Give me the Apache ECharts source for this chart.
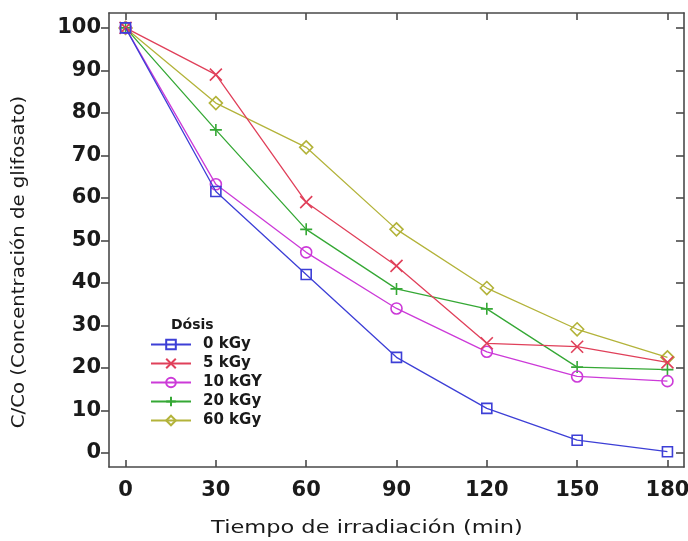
<!DOCTYPE html>
<html>
<head>
<meta charset="utf-8">
<script src="https://cdn.jsdelivr.net/npm/echarts@6/dist/echarts.min.js"></script>
<style>
html,body{margin:0;padding:0;background:#fff;}
#chart{width:688px;height:541px;}
</style>
</head>
<body>
<div id="chart"></div>
<script>
// Irradiation time (min) and relative glyphosate concentration per dose
const times = [0, 30, 60, 90, 120, 150, 180];
const xTicks = [0, 30, 60, 90, 120, 150, 180];
const yTicks = [0, 10, 20, 30, 40, 50, 60, 70, 80, 90, 100];
const seriesNames = ['0 kGy', '5 kGy', '10 kGY', '20 kGy', '60 kGy'];
const dose0 = [100, 61.5, 42, 22.5, 10.5, 3, 0.3];
const dose5 = [100, 89, 59, 44, 25.8, 25, 21.3];
const dose10 = [100, 63.2, 47.2, 34, 23.8, 18, 16.9];
const dose20 = [100, 76, 52.6, 38.6, 33.9, 20.2, 19.6];
const dose60 = [100, 82.3, 71.9, 52.6, 38.8, 29.1, 22.5];
const xTitle = 'Tiempo de irradiación (min)';
const yTitle = 'C/Co (Concentración de glifosato)';
const legendTitle = 'Dósis';

const colors = ['#3d3fd6', '#e0405a', '#cc3ad8', '#35a835', '#b3b33a'];
const crossPath = 'path://M0,0L10,10M10,0L0,10';
const plusPath = 'path://M5,0L5,10M0,5L10,5';
const symbols = ['rect', crossPath, 'circle', plusPath, 'diamond'];
const symbolSizes = [10, 12, 11, 12, 13];
const allData = [dose0, dose5, dose10, dose20, dose60];

const series = allData.map((vals, i) => {
  const isLineSym = i === 1 || i === 3;
  return {
    name: seriesNames[i],
    type: 'line',
    data: vals.map((v, k) => [times[k], v]),
    symbol: symbols[i],
    symbolSize: symbolSizes[i],
    showAllSymbol: true,
    lineStyle: { color: colors[i], width: 1.3 },
    itemStyle: isLineSym
      ? { color: 'none', borderColor: colors[i], borderWidth: 1.6 }
      : { color: 'rgba(255,255,255,0)', borderColor: colors[i], borderWidth: 1.6 },
    color: colors[i],
    emphasis: { disabled: true },
    z: 5 - i
  };
});

const axisLineStyle = { color: '#4a4a4a', width: 1.6 };
const tickFont = { fontFamily: 'DejaVu Sans, sans-serif', fontWeight: 'bold', fontSize: 21, color: '#1a1a1a' };

const chart = echarts.init(document.getElementById('chart'), null, { renderer: 'canvas' });
chart.setOption({
  animation: false,
  backgroundColor: '#fff',
  grid: { left: 109, right: 4, top: 13, bottom: 74, outerBoundsMode: 'none', containLabel: false },
  xAxis: [{
    type: 'value', min: -5.5, max: 185.5,
    axisLine: { show: true, onZero: false, lineStyle: axisLineStyle },
    axisTick: { show: true, inside: true, length: 7, customValues: xTicks, lineStyle: axisLineStyle },
    axisLabel: Object.assign({ customValues: xTicks, margin: 13 }, tickFont),
    splitLine: { show: false }
  }, {
    type: 'value', min: -5.5, max: 185.5, position: 'top',
    axisLine: { show: true, onZero: false, lineStyle: axisLineStyle },
    axisTick: { show: true, inside: true, length: 7, customValues: xTicks, lineStyle: axisLineStyle },
    axisLabel: { show: false },
    splitLine: { show: false }
  }],
  yAxis: [{
    type: 'value', min: -3.3, max: 103.5,
    axisLine: { show: true, onZero: false, lineStyle: axisLineStyle },
    axisTick: { show: true, inside: false, length: 8, customValues: yTicks, lineStyle: axisLineStyle },
    axisLabel: Object.assign({ customValues: yTicks, margin: 8 }, tickFont),
    splitLine: { show: false }
  }, {
    type: 'value', min: -3.3, max: 103.5, position: 'right',
    axisLine: { show: true, onZero: false, lineStyle: axisLineStyle },
    axisTick: { show: true, inside: true, length: 8, customValues: yTicks, lineStyle: axisLineStyle },
    axisLabel: { show: false },
    splitLine: { show: false }
  }],
  legend: {
    orient: 'vertical', left: 145, top: 332,
    itemWidth: 40, itemHeight: 12, itemGap: 4,
    textStyle: { fontFamily: 'DejaVu Sans, sans-serif', fontWeight: 'bold', fontSize: 15, color: '#1a1a1a', lineHeight: 15, padding: [0, 0, 0, 7] },
    data: seriesNames
  },
  graphic: [{
    type: 'text', x: 171, y: 325,
    style: { text: legendTitle, fontFamily: 'DejaVu Sans, sans-serif', fontWeight: 'bold', fontSize: 14, fill: '#1a1a1a', verticalAlign: 'middle' }
  }, {
    type: 'text', x: 367, y: 528, scaleX: 1.25,
    style: { text: xTitle, fontFamily: 'DejaVu Sans, sans-serif', fontSize: 18, fill: '#1a1a1a', align: 'center', verticalAlign: 'middle' }
  }, {
    type: 'text', x: 20, y: 262, rotation: Math.PI / 2, scaleX: 1.16,
    style: { text: yTitle, fontFamily: 'DejaVu Sans, sans-serif', fontSize: 17, fill: '#1a1a1a', align: 'center', verticalAlign: 'middle' }
  }],
  series: series
});
</script>
</body>
</html>
